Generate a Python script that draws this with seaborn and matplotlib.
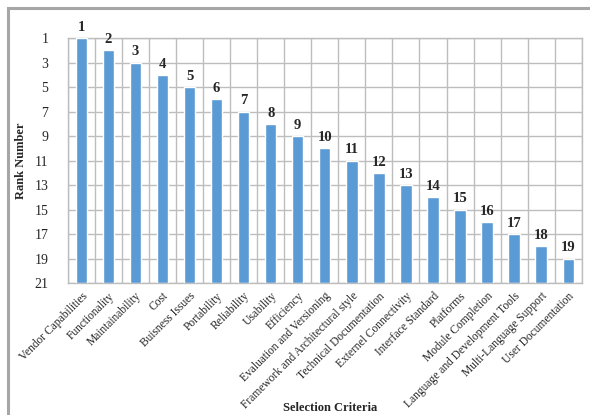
import pandas as pd
import numpy as np
import seaborn as sns
from matplotlib import pyplot as plt
from matplotlib.patches import Rectangle

# data
criteria = ["Vendor Capabilities", "Functionality", "Maintainability", "Cost",
            "Buisness Issues", "Portability", "Reliability", "Usability",
            "Efficiency", "Evaluation and Versioning",
            "Framework and Architectural style", "Technical Documentation",
            "Externel Connectivity", "Interface Standard", "Platforms",
            "Module Completion", "Language and Development Tools",
            "Multi-Language Support", "User Documentation"]
ranks = [1, 2, 3, 4, 5, 6, 7, 8, 9, 10, 11, 12, 13, 14, 15, 16, 17, 18, 19]
y_ticks = [1, 3, 5, 7, 9, 11, 13, 15, 17, 19, 21]

base = 21
df = pd.DataFrame({"criteria": criteria, "rank": ranks})
df["height"] = df["rank"] - base

sns.set_style("white")
plt.rcParams["font.family"] = ["Liberation Serif", "DejaVu Serif"]

fig, ax = plt.subplots(figsize=(5.9, 4.15), dpi=100)
fig.subplots_adjust(left=0.115, right=0.986, top=0.908, bottom=0.318)

sns.barplot(data=df, x="criteria", y="height", bottom=base, color="#5B9BD5",
            saturation=1, width=0.42, ax=ax, zorder=3)

ax.set_ylim(base, 1)
ax.set_xlim(-0.5, len(criteria) - 0.5)
ax.set_yticks(y_ticks)
ax.set_yticklabels([str(t) for t in y_ticks], fontsize=10)

# grid: horizontal at ticks, vertical at category boundaries
grid_col = "#BDBDBD"
for t in y_ticks:
    ax.axhline(t, color=grid_col, lw=1.0, zorder=1)
for b in np.arange(-0.5, len(criteria) + 0.5, 1):
    ax.axvline(b, color=grid_col, lw=1.0, zorder=1)

ax.set_xticks(np.arange(-0.5, len(criteria) + 0.5, 1), minor=True)
ax.tick_params(axis="x", which="minor", length=4, color=grid_col, direction="out")
ax.tick_params(axis="x", which="major", length=0, pad=5)
ax.tick_params(axis="y", length=0, pad=14)
ax.set_xticks(range(len(criteria)))
ax.set_xticklabels(criteria, rotation=45, ha="right", rotation_mode="anchor",
                   fontsize=8.3)

for s in ax.spines.values():
    s.set_color(grid_col)
    s.set_linewidth(1.0)

# rank labels over the bars
for i, r in enumerate(ranks):
    ax.annotate(str(r), (i, r), xytext=(0, 3), textcoords="offset points",
                ha="center", va="bottom", fontsize=10.5, fontweight="bold")

ax.set_ylabel("Rank Number", fontsize=9, fontweight="bold", labelpad=5)
ax.set_xlabel("")
fig.text(0.56, 0.003, "Selection Criteria", ha="center", va="bottom",
         fontsize=9, fontweight="bold")

# page frame
fig.patches.append(Rectangle((8 / 590, -0.1), 1.2, 1 - 8 / 415 + 0.1,
                             transform=fig.transFigure, fill=False,
                             edgecolor="#A6A6A6", lw=2.2))

fig.savefig("out.png", dpi=100)
